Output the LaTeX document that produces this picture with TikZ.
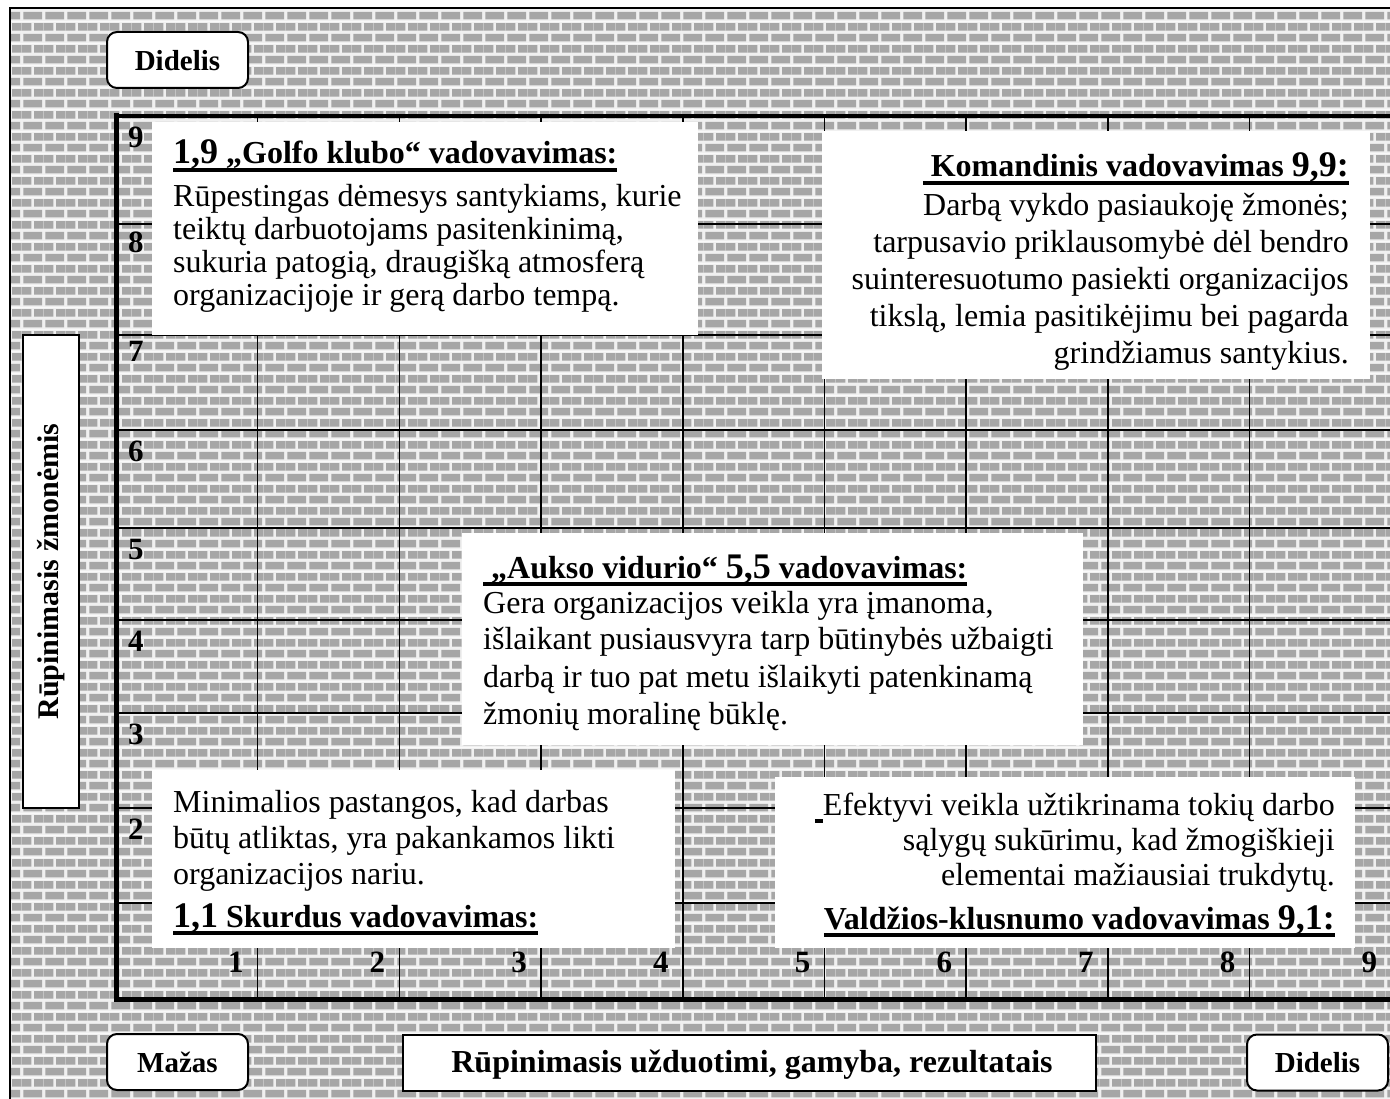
\documentclass[tikz,border=0pt]{standalone}
\usepackage{fontspec}
\setmainfont{Liberation Serif}
\usetikzlibrary{patterns}

\definecolor{brick}{HTML}{A6A6A6}
\definecolor{mortar}{HTML}{F0F0F0}

% brick wall tile: two courses, the second shifted by half a brick
\pgfdeclarepatterninherentlycolored{brickwall}
{\pgfpointorigin}{\pgfpoint{21.7pt}{21.7pt}}{\pgfpoint{21.7pt}{21.7pt}}
{
  \pgfsetfillcolor{mortar}
  \pgfpathrectangle{\pgfpointorigin}{\pgfpoint{21.7pt}{21.7pt}}
  \pgfusepath{fill}
  \pgfsetfillcolor{brick}
  \pgfpathrectangle{\pgfpoint{1.35pt}{1.7pt}}{\pgfpoint{19pt}{7.5pt}}
  \pgfpathrectangle{\pgfpoint{0pt}{12.55pt}}{\pgfpoint{9.5pt}{7.5pt}}
  \pgfpathrectangle{\pgfpoint{12.2pt}{12.55pt}}{\pgfpoint{9.5pt}{7.5pt}}
  \pgfusepath{fill}
}

\newcommand\numsz{\fontsize{36}{40}\selectfont}
% heavy underline under a whole box of text
\newcommand\ulbox[1]{\setbox0\hbox{#1}\rlap{\rule[-7.6pt]{\wd0}{3.2pt}}\box0}

\begin{document}
\begin{tikzpicture}[x=1pt,y=-1pt,
  gridline/.style={line width=1.5pt},
  labelbox/.style={draw=black, line width=2pt, fill=white, inner sep=0pt},
  roundbox/.style={labelbox, rounded corners=10pt, minimum width=141pt, minimum height=56pt},
  captxt/.style={inner sep=0pt, anchor=base, font=\bfseries\fontsize{29}{32}\selectfont},
  axnum/.style={inner sep=0pt, font=\bfseries\fontsize{31}{34}\selectfont},
  body/.style={inner sep=0pt, font=\fontsize{32}{36}\selectfont},
  head/.style={inner sep=0pt, font=\bfseries\fontsize{32}{36}\selectfont},
  textpanel/.style={fill=white}]

\useasboundingbox (0,0) rectangle (1390,1099);
\clip (0,0) rectangle (1390,1099);

% page background and brick wall
\fill[white] (0,0) rectangle (1390,1099);
\fill[pattern=brickwall] (9.5,8) rectangle (1395,1105);
\draw[line width=2pt] (9.5,1110) -- (9.5,8) -- (1400,8);

% grid of the chart
\foreach \k in {1,...,9}
  \draw[gridline] ({116+141.7*\k},116) -- ({116+141.7*\k},999);
\foreach \yy in {224,335,430,528,620,713,808,903}
  \draw[gridline] (116,\yy) -- (1395,\yy);

% axes and top edge
\draw[line width=4pt] (113.5,116) -- (1395,116);
\draw[line width=5pt] (116,113.5) -- (116,1002);
\draw[line width=5pt] (113.5,999.5) -- (1395,999.5);

% axis numbers
\foreach \n/\yy in {9/148,8/253,7/362,6/461,5/559,4/651,3/744,2/839}
  \node[axnum, anchor=base west] (ynum\n) at (128,\yy) {\n};
\foreach \n in {1,...,9}
  \node[axnum, anchor=base east] (xnum\n) at ({116+141.7*\n-14},972) {\n};

% white text panels
\fill[textpanel] (152,122) rectangle (698,335);
\fill[textpanel] (822,131) rectangle (1370,379);
\fill[textpanel] (462,533) rectangle (1083,745);
\fill[textpanel] (152,770) rectangle (675,948);
\fill[textpanel] (775,777) rectangle (1355,948);

% 1,9 panel
\node[head, anchor=base west] (h19) at (173,164) {\ulbox{{\numsz 1,9} „Golfo klubo“ vadovavimas:}};
\node[body, anchor=base west] (t19a) at (173,207) {Rūpestingas dėmesys santykiams, kurie};
\node[body, anchor=base west] (t19b) at (173,240) {teiktų darbuotojams pasitenkinimą,};
\node[body, anchor=base west] (t19c) at (173,273) {sukuria patogią, draugišką atmosferą};
\node[body, anchor=base west] (t19d) at (173,306) {organizacijoje ir gerą darbo tempą.};

% 9,9 panel
\node[head, anchor=base east] (h99) at (1349,177) {\ulbox{\ Komandinis vadovavimas {\numsz 9,9:}}};
\node[body, anchor=base east] (t99a) at (1349,216) {Darbą vykdo pasiaukoję žmonės;};
\node[body, anchor=base east] (t99b) at (1349,253) {tarpusavio priklausomybė dėl bendro};
\node[body, anchor=base east] (t99c) at (1349,290) {suinteresuotumo pasiekti organizacijos};
\node[body, anchor=base east] (t99d) at (1349,327) {tikslą, lemia pasitikėjimu bei pagarda};
\node[body, anchor=base east] (t99e) at (1349,363) {grindžiamus santykius.};

% 5,5 panel
\node[head, anchor=base west] (h55) at (483,578) {\ulbox{\ „Aukso vidurio“ {\numsz 5,5} vadovavimas:}};
\node[body, anchor=base west] (t55a) at (483,613) {Gera organizacijos veikla yra įmanoma,};
\node[body, anchor=base west] (t55b) at (483,649) {išlaikant pusiausvyra tarp būtinybės užbaigti};
\node[body, anchor=base west] (t55c) at (483,687) {darbą ir tuo pat metu išlaikyti patenkinamą};
\node[body, anchor=base west] (t55d) at (483,724) {žmonių moralinę būklę.};

% 1,1 panel
\node[body, anchor=base west] (t11a) at (173,812) {Minimalios pastangos, kad darbas};
\node[body, anchor=base west] (t11b) at (173,848) {būtų atliktas, yra pakankamos likti};
\node[body, anchor=base west] (t11c) at (173,884) {organizacijos nariu.};
\node[head, anchor=base west] (h11) at (173,927) {\ulbox{{\numsz 1,1} Skurdus vadovavimas:}};

% 9,1 panel
\node[body, anchor=base east] (t91a) at (1335,815) {\ulbox{\ }Efektyvi veikla užtikrinama tokių darbo};
\node[body, anchor=base east] (t91b) at (1335,850) {sąlygų sukūrimu, kad žmogiškieji};
\node[body, anchor=base east] (t91c) at (1335,885) {elementai mažiausiai trukdytų.};
\node[head, anchor=base east] (h91) at (1335,929) {\ulbox{Valdžios-klusnumo vadovavimas {\numsz 9,1:}}};

% scale captions
\node[roundbox] (bigtop) at (177.5,60) {};
\node[captxt] (bigtoptxt) at (177.5,71) {Didelis};
\node[roundbox] (small) at (177.5,1062) {};
\node[captxt] (smalltxt) at (177.5,1072) {Mažas};
\node[roundbox] (bigright) at (1317.5,1062.5) {};
\node[captxt] (bigrighttxt) at (1317.5,1072) {Didelis};
\node[labelbox, minimum width=693pt, minimum height=56pt] (taskaxis) at (749.5,1063) {};
\node[captxt, font=\bfseries\fontsize{32}{34}\selectfont] (taskaxistxt) at (752,1072) {Rūpinimasis užduotimi, gamyba, rezultatais};
\node[labelbox, minimum width=56pt, minimum height=473pt] (peoplebox) at (51,571.5) {};
\node[inner sep=0pt, rotate=90, font=\bfseries\fontsize{30}{33}\selectfont] (peopleaxis) at (peoplebox.center) {Rūpinimasis žmonėmis};

\end{tikzpicture}
\end{document}
